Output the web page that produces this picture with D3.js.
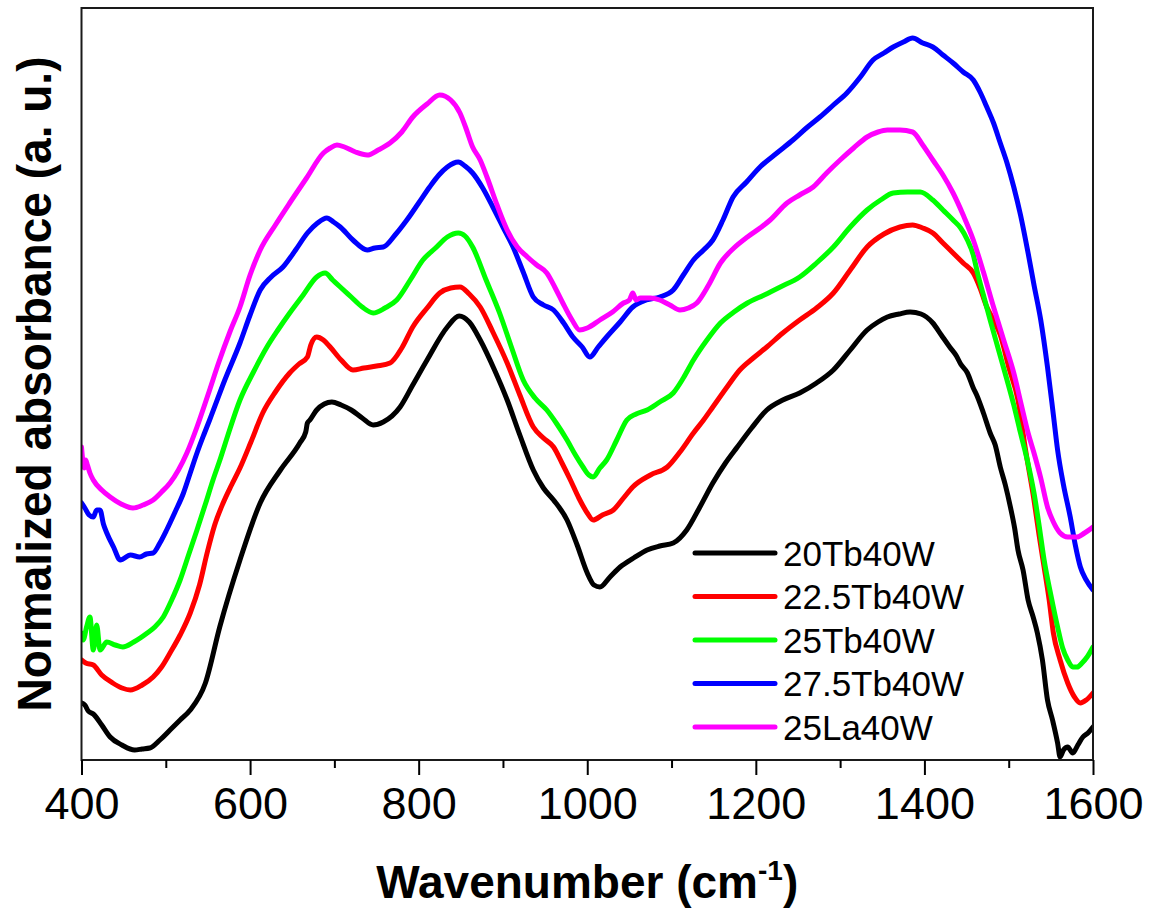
<!DOCTYPE html>
<html>
<head>
<meta charset="utf-8">
<script src="https://cdn.jsdelivr.net/npm/d3@7"></script>
<style>
  html, body { margin: 0; padding: 0; background: #fff; }
  svg { display: block; }
  text { font-family: "Liberation Sans", Arial, sans-serif; fill: #000; }
</style>
</head>
<body>
<svg id="chart" width="1156" height="912"></svg>
<script>
// Series names and colours
const seriesNames = ["20Tb40W", "22.5Tb40W", "25Tb40W", "27.5Tb40W", "25La40W"];
const seriesColors = ["#000000", "#ff0000", "#00ff00", "#0000ff", "#ff00ff"];

// x ticks
const xTicks = [400, 600, 800, 1000, 1200, 1400, 1600];
const xMinorTicks = [500, 700, 900, 1100, 1300, 1500];

// [wavenumber (cm-1), normalized absorbance (a.u., offset-stacked)]
const s20Tb40W = [
  [400,57],[404,55],[408,49],[414,46],[424,35],[434,23],[448,15],[463,10],[472,11],[481,12],
  [493,20],[505,30],[517,40],[529,50],[547,77],[564,133],[588,200],[612,257],[636,290],[659,317],
  [666,328],[668,337],[671,340],[679,350],[688,356],[697,358],[708,355],[720,350],[733,342],[746,335],
  [758,338],[778,353],[793,375],[810,400],[834,433],[848,444],[860,438],[873,420],[890,390],[905,360],
  [920,325],[936,290],[948,272],[960,260],[976,240],[988,215],[1000,187],[1008,175],[1015,173],[1027,183],
  [1039,193],[1055,202],[1071,210],[1086,214],[1102,217],[1118,230],[1133,252],[1149,277],[1164,297],[1178,313],
  [1195,332],[1213,350],[1232,360],[1252,367],[1272,377],[1292,390],[1312,410],[1332,430],[1345,438],[1356,443],
  [1370,446],[1383,448],[1396,446],[1410,437],[1420,425],[1430,413],[1438,404],[1443,396],[1451,387],[1458,372],
  [1462,365],[1470,347],[1478,327],[1484,315],[1490,293],[1496,275],[1502,253],[1507,232],[1511,210],[1517,190],
  [1523,160],[1529,143],[1534,127],[1540,100],[1546,60],[1552,40],[1558,17],[1561,3],[1565,10],[1570,13],
  [1576,7],[1582,15],[1588,23],[1594,27],[1600,33]
];
const s22_5Tb40W = [
  [400,100],[405,97],[414,95],[424,85],[437,77],[448,72],[458,70],[472,75],[485,83],[495,93],
  [505,107],[517,125],[529,147],[540,175],[549,207],[558,235],[568,257],[578,275],[588,292],[601,318],
  [615,347],[630,368],[647,387],[658,396],[668,403],[672,415],[679,423],[687,420],[695,413],[708,400],
  [722,390],[735,392],[750,394],[766,397],[780,412],[793,433],[810,452],[825,467],[838,472],[849,473],
  [860,466],[873,453],[888,428],[905,397],[920,365],[936,333],[948,322],[960,313],[970,297],[980,280],
  [990,262],[1000,247],[1007,240],[1018,245],[1031,250],[1043,262],[1054,273],[1075,285],[1095,293],[1110,308],
  [1126,327],[1138,340],[1149,353],[1165,372],[1181,390],[1197,402],[1213,413],[1232,427],[1252,440],[1272,452],
  [1292,467],[1312,490],[1332,513],[1352,526],[1371,533],[1386,535],[1398,532],[1410,527],[1422,517],[1434,507],
  [1446,497],[1458,487],[1466,472],[1474,453],[1482,440],[1490,425],[1500,393],[1511,360],[1520,310],[1530,260],
  [1536,225],[1542,193],[1548,160],[1553,127],[1561,100],[1570,77],[1578,63],[1585,57],[1592,60],[1600,67]
];
const s25Tb40W = [
  [400,127],[402,120],[406,133],[410,143],[414,110],[418,135],[422,110],[430,118],[440,115],[449,113],
  [462,118],[478,127],[487,133],[497,143],[507,160],[517,180],[527,205],[537,230],[547,256],[556,280],
  [565,302],[573,323],[588,360],[604,388],[620,413],[633,430],[647,447],[663,465],[679,483],[689,487],
  [698,480],[707,473],[720,463],[733,453],[746,447],[760,452],[774,460],[790,480],[805,500],[820,512],
  [834,523],[847,527],[855,524],[864,513],[880,480],[896,447],[910,413],[924,380],[938,362],[952,350],
  [964,336],[976,320],[986,305],[995,293],[1002,285],[1007,283],[1015,292],[1023,300],[1035,320],[1047,340],
  [1058,346],[1071,350],[1086,358],[1102,367],[1114,382],[1126,400],[1142,420],[1158,437],[1174,448],[1190,457],
  [1210,465],[1229,473],[1252,483],[1272,497],[1292,513],[1312,533],[1332,550],[1348,560],[1363,567],[1380,568],
  [1395,568],[1410,560],[1422,550],[1434,540],[1443,532],[1451,520],[1458,505],[1463,487],[1470,465],[1478,440],
  [1488,410],[1498,380],[1506,355],[1514,327],[1522,300],[1530,267],[1536,235],[1542,200],[1550,165],[1558,133],
  [1564,112],[1570,100],[1576,93],[1581,93],[1587,97],[1593,103],[1600,113]
];
const s27_5Tb40W = [
  [400,257],[404,252],[409,245],[414,243],[418,250],[422,250],[426,236],[430,227],[438,213],[446,200],
  [458,205],[469,203],[477,206],[485,207],[493,217],[501,230],[511,248],[521,267],[529,287],[537,307],
  [545,325],[552,340],[570,380],[588,417],[600,445],[612,470],[625,483],[639,493],[654,510],[668,527],
  [680,537],[691,542],[699,538],[707,533],[722,520],[739,510],[748,512],[758,513],[772,525],[786,540],
  [800,557],[813,573],[824,585],[834,593],[847,598],[855,594],[864,587],[876,572],[888,553],[900,533],
  [912,513],[924,488],[936,463],[948,455],[960,450],[972,437],[983,423],[994,413],[1003,403],[1013,413],
  [1023,423],[1039,438],[1054,453],[1070,460],[1086,463],[1102,470],[1114,485],[1126,500],[1138,510],[1149,520],
  [1161,540],[1173,563],[1189,578],[1205,593],[1225,607],[1244,620],[1260,632],[1276,643],[1292,655],[1308,667],
  [1324,683],[1339,700],[1352,707],[1363,713],[1375,718],[1386,722],[1398,717],[1410,713],[1422,705],[1434,697],
  [1446,688],[1458,680],[1466,668],[1474,653],[1482,637],[1490,617],[1498,597],[1506,573],[1514,545],[1523,507],
  [1530,475],[1538,440],[1546,393],[1553,345],[1558,310],[1565,275],[1573,243],[1579,215],[1585,193],[1592,180],
  [1600,170]
];
const s25La40W = [
  [400,313],[402,296],[403,292],[405,300],[407,295],[410,287],[414,280],[424,270],[434,263],[447,256],
  [461,252],[473,255],[485,260],[495,268],[505,277],[515,290],[525,307],[537,333],[550,365],[563,398],
  [576,428],[588,453],[600,485],[612,510],[630,535],[647,557],[667,582],[687,607],[695,612],[703,615],
  [712,613],[725,608],[739,605],[752,610],[766,617],[780,628],[793,643],[810,656],[825,665],[838,660],
  [849,647],[856,632],[864,613],[873,600],[881,583],[893,555],[905,530],[917,513],[929,503],[940,495],
  [952,487],[962,472],[971,457],[982,440],[991,430],[1000,432],[1015,440],[1030,448],[1043,457],[1050,460],
  [1054,467],[1058,460],[1063,462],[1075,462],[1086,460],[1098,455],[1110,450],[1120,452],[1130,457],[1144,475],
  [1158,497],[1174,512],[1190,523],[1205,532],[1217,540],[1237,557],[1252,565],[1268,573],[1284,587],[1300,600],
  [1316,612],[1332,623],[1345,628],[1356,630],[1371,630],[1386,628],[1398,615],[1410,600],[1422,585],[1434,567],
  [1446,545],[1458,520],[1470,488],[1482,453],[1494,420],[1506,387],[1515,355],[1523,327],[1530,307],[1538,282],
  [1546,253],[1553,238],[1561,227],[1570,223],[1581,223],[1590,227],[1600,233]
];

const seriesData = [s20Tb40W, s22_5Tb40W, s25Tb40W, s27_5Tb40W, s25La40W];

// ---- layout ----
const svg = d3.select("#chart");
const plot = { left: 81.5, right: 1093, top: 8, bottom: 760 };

const x = d3.scaleLinear().domain([400, 1600]).range([plot.left, plot.right]);
const y = d3.scaleLinear().domain([0, 752]).range([plot.bottom, plot.top]);

// clip
svg.append("defs").append("clipPath").attr("id", "clip")
  .append("rect")
  .attr("x", plot.left).attr("y", plot.top)
  .attr("width", plot.right - plot.left).attr("height", plot.bottom - plot.top);

// curves
const line = d3.line()
  .x(d => x(d[0]))
  .y(d => y(d[1]))
  .curve(d3.curveMonotoneX);

const g = svg.append("g").attr("clip-path", "url(#clip)");
seriesData.forEach((data, i) => {
  g.append("path")
    .datum(data)
    .attr("d", line)
    .attr("fill", "none")
    .attr("stroke", seriesColors[i])
    .attr("stroke-width", 5)
    .attr("stroke-linejoin", "round")
    .attr("stroke-linecap", "round");
});

// frame
svg.append("rect")
  .attr("x", plot.left).attr("y", plot.top)
  .attr("width", plot.right - plot.left).attr("height", plot.bottom - plot.top)
  .attr("fill", "none").attr("stroke", "#1a1a1a").attr("stroke-width", 2);

// x axis with major ticks
const xAxis = d3.axisBottom(x)
  .tickValues(xTicks)
  .tickSize(15)
  .tickPadding(12)
  .tickFormat(d3.format("d"));
const xg = svg.append("g")
  .attr("transform", `translate(0,${plot.bottom})`)
  .call(xAxis);
xg.select(".domain").remove();
xg.selectAll(".tick line").attr("stroke", "#000").attr("stroke-width", 2);
xg.selectAll(".tick text")
  .style("font-family", "'Liberation Sans', Arial, sans-serif")
  .style("font-size", "45px")
  .attr("fill", "#000");

// minor ticks
const xMinor = d3.axisBottom(x).tickValues(xMinorTicks).tickSize(8).tickFormat("");
const xmg = svg.append("g").attr("transform", `translate(0,${plot.bottom})`).call(xMinor);
xmg.select(".domain").remove();
xmg.selectAll(".tick line").attr("stroke", "#000").attr("stroke-width", 2);

// axis titles
const xTitle = svg.append("text")
  .attr("x", (plot.left + plot.right) / 2 + 0)
  .attr("y", 898)
  .attr("text-anchor", "middle")
  .style("font-size", "46px")
  .style("font-weight", "bold");
xTitle.append("tspan").text("Wavenumber (cm");
xTitle.append("tspan").attr("dy", -18).style("font-size", "28px").text("-1");
xTitle.append("tspan").attr("dy", 18).text(")");

svg.append("text")
  .attr("transform", `translate(51,384) rotate(-90)`)
  .attr("text-anchor", "middle")
  .style("font-size", "48px")
  .style("font-weight", "bold")
  .attr("textLength", 655)
  .attr("lengthAdjust", "spacingAndGlyphs")
  .text("Normalized absorbance (a. u.)");

// legend
const legend = svg.append("g");
seriesNames.forEach((name, i) => {
  const ly = 553 + i * 43.5;
  legend.append("line")
    .attr("x1", 695).attr("x2", 775)
    .attr("y1", ly).attr("y2", ly)
    .attr("stroke", seriesColors[i])
    .attr("stroke-width", 5)
    .attr("stroke-linecap", "round");
  legend.append("text")
    .attr("x", 783).attr("y", ly + 12.5)
    .style("font-size", "35px")
    .text(name);
});
</script>
</body>
</html>
